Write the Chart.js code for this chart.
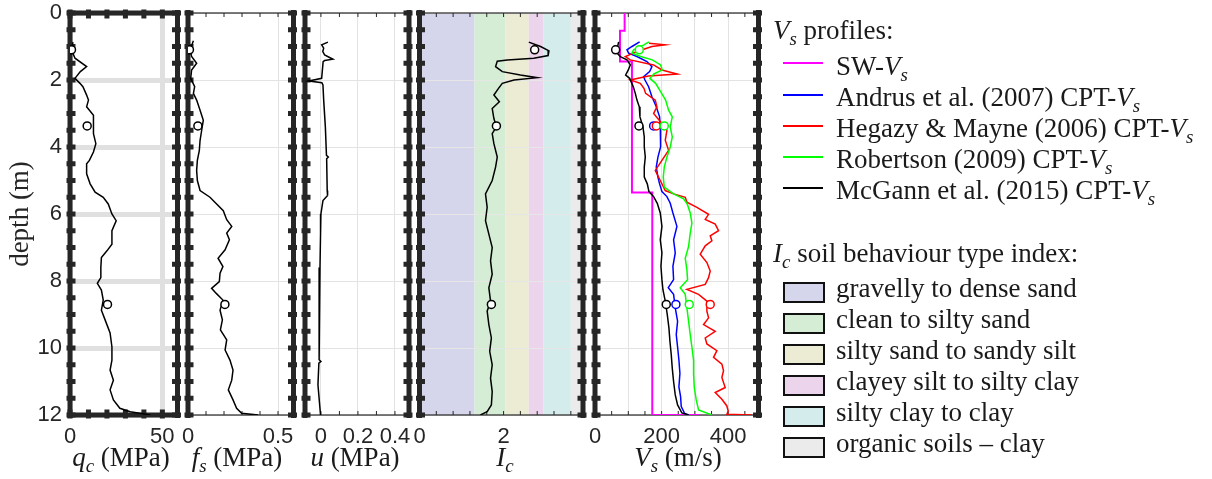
<!DOCTYPE html>
<html><head><meta charset="utf-8">
<script src="https://cdn.jsdelivr.net/npm/chart.js@4.4.1/dist/chart.umd.min.js"></script>
<style>
html,body{margin:0;padding:0;background:#fff;}
#wrap{position:relative;width:1212px;height:479px;overflow:hidden;background:#fff;}
canvas{position:absolute;left:0;top:0;}
.t{position:absolute;font-family:"Liberation Serif","Times New Roman","DejaVu Serif","Noto Serif",serif;font-size:27px;line-height:30px;color:#1a1a1a;white-space:nowrap;z-index:5;}
.xt{width:200px;text-align:center;top:442px;}
i{font-style:italic;}
sub{font-size:0.7em;vertical-align:-0.3em;line-height:0;}
.ln{position:absolute;left:783px;width:40px;height:2px;z-index:5;}
.bx{position:absolute;left:783px;width:38px;height:17px;border:2px solid #111;z-index:5;}
</style>
</head><body>
<div id="wrap">
  <div class="t xt" style="left:21px"><i>q</i><sub><i>c</i></sub> (MPa)</div>
  <div class="t xt" style="left:137px"><i>f</i><sub><i>s</i></sub> (MPa)</div>
  <div class="t xt" style="left:255px"><i>u</i> (MPa)</div>
  <div class="t xt" style="left:405px"><i>I</i><sub><i>c</i></sub></div>
  <div class="t xt" style="left:578px"><i>V</i><sub><i>s</i></sub> (m/s)</div>

  <div class="t" style="left:773px;top:15px"><i>V</i><sub><i>s</i></sub> profiles:</div>
  <div class="ln" style="top:62px;background:#ff00ff"></div>
  <div class="t" style="left:836px;top:51px">SW-<i>V</i><sub><i>s</i></sub></div>
  <div class="ln" style="top:94px;background:#0000ff"></div>
  <div class="t" style="left:836px;top:82px">Andrus et al. (2007) CPT-<i>V</i><sub><i>s</i></sub></div>
  <div class="ln" style="top:125px;background:#ff0000"></div>
  <div class="t" style="left:836px;top:113px">Hegazy &amp; Mayne (2006) CPT-<i>V</i><sub><i>s</i></sub></div>
  <div class="ln" style="top:156px;background:#00ff00"></div>
  <div class="t" style="left:836px;top:144px">Robertson (2009) CPT-<i>V</i><sub><i>s</i></sub></div>
  <div class="ln" style="top:187px;background:#000000"></div>
  <div class="t" style="left:836px;top:175px">McGann et al. (2015) CPT-<i>V</i><sub><i>s</i></sub></div>

  <div class="t" style="left:773px;top:238px"><i>I</i><sub><i>c</i></sub> soil behaviour type index:</div>
  <div id="icLegend"></div>
</div>
<script>
// ================= DATA =================
const depthTicks = [0, 2, 4, 6, 8, 10, 12];
const markDepth = [1.1, 3.37, 8.7];

// Cone tip resistance qc (MPa)
const qcDepth = [0.87,1.1,1.35,1.6,1.75,1.95,2.1,2.2,2.45,2.6,2.8,3.05,3.35,3.6,3.9,4.15,4.4,4.5,4.8,5.1,5.35,5.5,5.7,6.0,6.2,6.5,6.9,7.1,7.3,7.6,7.9,8.07,8.27,8.57,8.87,9.16,9.55,9.97,10.36,10.66,10.96,11.25,11.55,11.8,11.9,12.0];
const qcVal   = [1.6,0.8,2.7,9.0,5.6,2.7,5.4,7.0,9.0,10.0,9.0,12.7,12.7,12.7,14.0,12.7,10.5,9.0,9.0,10.9,13.6,18.0,20.7,22.7,25.0,22.7,22.7,20.0,17.0,16.7,16.7,14.8,17.0,18.0,17.0,19.0,21.7,22.7,22.7,21.7,23.5,21.7,23.5,27.0,32.6,43.5];
const qcMarkVal = [0.8, 9.3, 20.3];
const qcTicks = [0, 50];
const qcTickLabels = ['0', '50'];
const qcMinor = [0, 10, 20, 30, 40, 50];

// Sleeve friction fs (MPa)
const fsDepth = [0.83,0.9,1.1,1.3,1.5,1.7,1.95,2.2,2.4,2.6,2.9,3.2,3.5,3.8,4.1,4.4,4.7,5.0,5.3,5.5,5.7,5.9,6.17,6.37,6.57,6.77,7.07,7.32,7.57,7.77,8.02,8.22,8.37,8.57,8.87,9.16,9.46,9.76,10.06,10.36,10.66,10.96,11.25,11.55,11.8,11.95,12.0];
const fsVal   = [0.03,0.025,0.012,0.02,0.048,0.02,0.015,0.037,0.03,0.048,0.067,0.085,0.076,0.067,0.063,0.052,0.048,0.052,0.067,0.122,0.159,0.196,0.215,0.243,0.215,0.23,0.206,0.167,0.194,0.178,0.174,0.131,0.157,0.194,0.178,0.191,0.18,0.215,0.206,0.233,0.25,0.243,0.224,0.25,0.27,0.298,0.39];
const fsMarkVal = [0.008, 0.055, 0.205];
const fsTicks = [0, 0.5];
const fsTickLabels = ['0', '0.5'];
const fsMinor = [0, 0.1, 0.2, 0.3, 0.4, 0.5];

// Pore pressure u (MPa)
const uDepth = [0.87,0.95,1.05,1.15,1.25,1.38,1.42,1.45,1.95,2.03,2.08,2.15,2.6,3.4,4.25,4.3,4.35,5.3,5.45,5.6,6.0,6.6,7.6,8.6,9.6,10.35,10.4,10.45,11.1,12.0];
const uVal   = [0.038,0.004,0.015,0.01,0.02,0.065,0.02,0.012,0.004,-0.064,0.005,0.011,0.015,0.024,0.03,0.04,0.031,0.034,0.036,0.011,0.0,-0.002,-0.005,-0.009,-0.01,-0.01,0.0,-0.011,-0.016,-0.002];
const uTicks = [0, 0.2, 0.4];
const uTickLabels = ['0', '0.2', '0.4'];
const uMinor = [0, 0.1, 0.2, 0.3, 0.4];

// Soil behaviour type index Ic
const icDepth = [0.87,1.0,1.13,1.27,1.35,1.4,1.44,1.6,1.75,1.85,1.93,2.0,2.1,2.25,2.45,2.65,2.85,3.15,3.4,3.6,3.9,4.3,4.6,5.0,5.4,5.8,6.2,6.6,7.0,7.4,7.8,8.2,8.6,8.9,9.3,9.7,10.1,10.5,10.9,11.3,11.7,11.9,12.0];
const icVal   = [2.6,2.88,3.08,3.06,2.72,2.09,1.85,1.81,1.97,2.4,2.8,2.25,1.97,1.88,1.77,1.9,1.73,1.77,1.83,1.73,1.77,1.85,1.81,1.73,1.57,1.61,1.57,1.65,1.73,1.69,1.73,1.65,1.69,1.61,1.65,1.71,1.67,1.73,1.69,1.73,1.71,1.61,1.45];
const icMarkVal = [2.74, 1.83, 1.71];
const icTicks = [0, 2];
const icTickLabels = ['0', '2'];
const icMinor = [0.4, 0.8, 1.2, 1.6, 2.0, 2.4, 2.8, 3.2, 3.6];
const icBandEdges = [0, 1.31, 2.05, 2.6, 2.95, 3.6, 4.0];
const icBandNames = ['gravelly to dense sand', 'clean to silty sand', 'silty sand to sandy silt', 'clayey silt to silty clay', 'silty clay to clay', 'organic soils \u2013 clay'];
const icBandColors = ['#d5d5eb', '#d5ecd5', '#ececd5', '#ecd5ec', '#d5ecec', '#ebebeb'];

// Shear-wave velocity Vs (m/s)
const swDepth = [0, 0.53, 0.53, 1.45, 1.45, 5.36, 5.36, 12, 12];
const swVs    = [89, 89, 75, 75, 111, 111, 172, 172, 316];

const anDepth = [0.86,1.0,1.1,1.2,1.3,1.45,1.6,1.75,1.9,2.0,2.2,2.5,2.8,3.1,3.4,3.7,4.0,4.3,4.6,4.9,5.1,5.33,5.48,5.68,5.97,6.37,6.77,7.16,7.56,7.96,8.2,8.4,8.8,9.2,9.6,9.97,10.36,10.76,11.16,11.45,11.75,11.95,12.0];
const anVs    = [134,111,96,101,126,156,171,164,146,150,161,171,184,194,196,198,196,189,184,189,194,201,216,226,234,246,236,241,234,236,220,236,241,248,244,248,252,255,252,257,259,269,281];

const heDepth = [0.9,0.95,1.0,1.15,1.3,1.4,1.55,1.7,1.82,1.88,2.0,2.1,2.25,2.4,2.6,2.8,3.0,3.3,3.5,3.8,4.1,4.4,4.7,5.0,5.3,5.4,5.5,5.65,5.8,6.01,6.16,6.3,6.5,6.65,6.8,6.95,7.2,7.45,7.7,7.9,8.1,8.25,8.4,8.6,8.9,9.1,9.3,9.5,9.7,9.88,10.08,10.28,10.48,10.68,10.88,11.18,11.33,11.53,11.73,11.88,11.98,12.0];
const heVs    = [162,211,171,126,91,106,176,201,247,161,106,136,147,152,181,186,176,201,216,211,221,201,181,196,211,236,271,276,306,341,331,361,371,346,351,331,316,336,346,341,331,276,311,336,336,341,326,361,331,336,366,356,381,386,381,391,361,381,396,400,396,472];

const roDepth = [0.86,0.95,1.1,1.2,1.3,1.4,1.55,1.7,1.82,1.95,2.1,2.35,2.6,2.9,3.1,3.4,3.7,4.0,4.3,4.6,4.9,5.2,5.4,5.55,5.7,5.97,6.27,6.57,6.97,7.32,7.67,7.96,8.2,8.4,8.8,9.2,9.6,9.97,10.36,10.76,11.16,11.55,11.85,12.0];
const roVs    = [162,147,116,111,137,172,197,202,177,165,182,197,212,221,232,226,232,226,216,208,205,208,236,266,277,286,291,286,281,271,276,278,256,271,276,281,286,291,296,296,298,304,311,351];

const mgDepth = [0.86,1.0,1.2,1.3,1.4,1.55,1.7,1.85,1.95,2.2,2.4,2.6,2.8,3.1,3.4,3.7,4.0,4.3,4.6,4.9,5.1,5.33,5.48,5.68,5.97,6.37,6.77,7.16,7.56,7.96,8.26,8.6,9.0,9.4,9.8,10.2,10.6,11.0,11.4,11.7,11.94,12.0];
const mgVs    = [71,68,67,76,96,106,100,92,104,115,121,126,133,135,144,148,148,151,148,148,157,162,176,187,196,201,196,201,198,201,204,211,217,222,225,229,232,236,241,248,261,281];

const mgMarkVs = [62, 132, 214];
const roMarkVs = [133, 208, 283];
const heMarkDepth = [3.37, 8.7];
const heMarkVs = [184, 346];
const anMarkDepth = [3.37, 8.7];
const anMarkVs = [176, 243];
const vsTicks = [0, 100, 200, 300, 400];
const vsTickLabels = ['0', '', '200', '', '400'];
const vsMinor = [0, 50, 100, 150, 200, 250, 300, 350, 400, 450];

// ================= HELPERS =================
const pts = (ys, xs) => xs.map((v, i) => ({x: v, y: ys[i]}));
const line = (ys, xs, color, w) => ({data: pts(ys, xs), showLine: true, pointRadius: 0, borderColor: color, borderWidth: w || 1.5, fill: false, tension: 0});
const marks = (ys, xs, color) => ({data: pts(ys, xs), showLine: false, pointRadius: 4, pointBorderWidth: 1.5, borderWidth: 1.5, pointBorderColor: color, borderColor: color, pointBackgroundColor: '#ffffff', backgroundColor: '#ffffff'});

const yMinor = [];
for (let d = 0; d <= 12.0001; d += 0.5) yMinor.push(d);

const framePlugin = {
  id: 'frame',
  beforeDatasetsDraw(chart, args, o) {
    const {ctx, chartArea: a} = chart;
    const x = chart.scales.x, y = chart.scales.y;
    const L = a.left, R = a.right, T = a.top, B = a.bottom;
    ctx.save();
    ctx.fillStyle = '#262626';
    ctx.fillRect(L - 2.5, T - 3, 5, B - T + 6);
    ctx.fillRect(R - 2.5, T - 3, 5, B - T + 6);
    for (const d of yMinor) {
      const py = y.getPixelForValue(d);
      ctx.fillRect(L - 3.5, py - 2.5, 9, 5);
      ctx.fillRect(R - 5.5, py - 2.5, 9, 5);
    }
    if (o.thick) {
      ctx.fillRect(L - 2.5, T - 2.5, R - L + 5, 5);
      ctx.fillRect(L - 2.5, B - 2.5, R - L + 5, 5);
      for (const v of o.minor) {
        const px = x.getPixelForValue(v);
        ctx.fillRect(px - 2.5, T - 3.5, 5, 9);
        ctx.fillRect(px - 2.5, B - 5.5, 5, 9);
      }
    } else {
      ctx.fillRect(L, T - 0.6, R - L, 1.2);
      ctx.fillRect(L, B - 0.6, R - L, 1.2);
      for (const v of o.minor) {
        const px = x.getPixelForValue(v);
        ctx.fillRect(px - 0.5, T, 1, 4);
        ctx.fillRect(px - 0.5, B - 4, 1, 4);
      }
    }
    ctx.restore();
  }
};

const bandPlugin = {
  id: 'bands',
  beforeDraw(chart, args, o) {
    if (!o || !o.edges) return;
    const {ctx, chartArea: a} = chart;
    const x = chart.scales.x;
    ctx.save();
    for (let i = 0; i < o.colors.length; i++) {
      const x0 = Math.max(a.left, x.getPixelForValue(o.edges[i]));
      const x1 = Math.min(a.right, x.getPixelForValue(o.edges[i + 1]));
      if (x1 <= x0) continue;
      ctx.fillStyle = o.colors[i];
      ctx.fillRect(x0, a.top, x1 - x0, a.bottom - a.top);
    }
    ctx.restore();
  }
};

const tickFont = {family: '"Liberation Sans", Arial, sans-serif', size: 22};
const serifFam = '"Liberation Serif", "Times New Roman", "DejaVu Serif", "Noto Serif", serif';
const wrap = document.getElementById('wrap');

function makePanel(cfg) {
  const canvas = document.createElement('canvas');
  canvas.width = 1212; canvas.height = 479;
  wrap.appendChild(canvas);
  return new Chart(canvas, {
    type: 'scatter',
    data: {datasets: cfg.datasets},
    options: {
      responsive: false, animation: false, events: [],
      layout: {padding: {left: cfg.showY ? 0 : cfg.left, right: 1212 - cfg.right, top: 13, bottom: 0}},
      plugins: {
        legend: {display: false}, tooltip: {enabled: false},
        frame: {thick: !!cfg.thick, minor: cfg.minor},
        bands: cfg.bands || {}
      },
      scales: {
        x: {
          type: 'linear', position: 'bottom', min: cfg.xmin, max: cfg.xmax,
          afterBuildTicks: s => { s.ticks = cfg.ticks.map(v => ({value: v})); },
          afterFit: s => { s.height = 64; s.paddingLeft = 0; s.paddingRight = 0; },
          ticks: {autoSkip: false, maxRotation: 0, minRotation: 0, padding: 9, font: tickFont, color: '#262626',
                  callback: (v, i) => cfg.tickLabels[i]},
          grid: {display: cfg.xGrid !== false, drawTicks: false, color: cfg.gridColor, lineWidth: cfg.gridWidth},
          border: {display: false}
        },
        y: {
          type: 'linear', reverse: true, min: 0, max: 12,
          afterBuildTicks: s => { s.ticks = depthTicks.map(v => ({value: v})); },
          afterFit: s => { s.width = cfg.showY ? cfg.left : 0; s.paddingTop = 0; s.paddingBottom = 0; },
          ticks: {display: !!cfg.showY, padding: 8, font: tickFont, color: '#262626',
                  callback: (v, i) => String(depthTicks[i])},
          title: {display: !!cfg.showY, text: 'depth (m)', color: '#262626',
                  font: {family: serifFam, size: 27}, padding: {top: 5, bottom: 0}},
          grid: {drawTicks: false, color: cfg.gridColor, lineWidth: cfg.gridWidth},
          border: {display: false}
        }
      }
    },
    plugins: [bandPlugin, framePlugin]
  });
}

// qc panel
makePanel({
  left: 70, right: 177.5, xmin: 0, xmax: 58.2, showY: true, thick: true,
  ticks: qcTicks, tickLabels: qcTickLabels, minor: qcMinor,
  gridColor: '#e0e0e0', gridWidth: 5,
  datasets: [marks(markDepth, qcMarkVal, '#000'), line(qcDepth, qcVal, '#000', 1.5)]
});
// fs panel
makePanel({
  left: 188, right: 293.5, xmin: 0, xmax: 0.586,
  ticks: fsTicks, tickLabels: fsTickLabels, minor: fsMinor,
  gridColor: '#e3e3e3', gridWidth: 1,
  datasets: [marks(markDepth, fsMarkVal, '#000'), line(fsDepth, fsVal, '#000', 1.5)]
});
// u panel
makePanel({
  left: 305, right: 409, xmin: -0.086, xmax: 0.476,
  ticks: uTicks, tickLabels: uTickLabels, minor: uMinor,
  gridColor: '#e3e3e3', gridWidth: 1,
  datasets: [line(uDepth, uVal, '#000', 1.5)]
});
// Ic panel
makePanel({
  left: 419.5, right: 583, xmin: 0, xmax: 3.89,
  ticks: icTicks, tickLabels: icTickLabels, minor: icMinor, xGrid: false,
  gridColor: '#e6e6e6', gridWidth: 1,
  bands: {edges: icBandEdges, colors: icBandColors},
  datasets: [marks(markDepth, icMarkVal, '#000'), line(icDepth, icVal, '#000', 1.5)]
});
// Vs panel
makePanel({
  left: 595, right: 758.5, xmin: 0, xmax: 491,
  ticks: vsTicks, tickLabels: vsTickLabels, minor: vsMinor,
  gridColor: '#e3e3e3', gridWidth: 1,
  datasets: [
    marks(markDepth, mgMarkVs, '#000000'),
    marks(markDepth, roMarkVs, '#00ff00'),
    marks(heMarkDepth, heMarkVs, '#ff0000'),
    marks(anMarkDepth, anMarkVs, '#0000ff'),
    line(mgDepth, mgVs, '#000000', 1.5),
    line(roDepth, roVs, '#00ff00', 1.5),
    line(heDepth, heVs, '#ff0000', 1.5),
    line(anDepth, anVs, '#0000ff', 1.5),
    line(swDepth, swVs, '#ff00ff', 2)
  ]
});

// Ic legend (HTML)
const icLeg = document.getElementById('icLegend');
icBandNames.forEach((name, i) => {
  const top = 282 + 31 * i;
  const b = document.createElement('div');
  b.className = 'bx'; b.style.top = top + 'px'; b.style.background = icBandColors[i];
  icLeg.appendChild(b);
  const t = document.createElement('div');
  t.className = 't'; t.style.left = '836px'; t.style.top = (top - 9) + 'px';
  t.textContent = name;
  icLeg.appendChild(t);
});
</script>
</body></html>
